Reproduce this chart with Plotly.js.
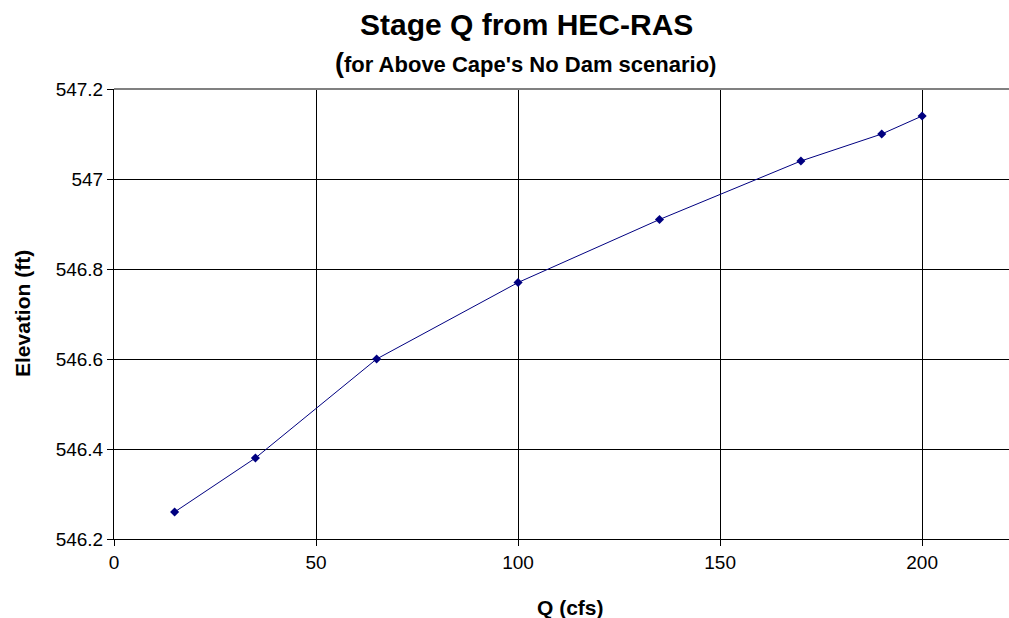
<!DOCTYPE html>
<html><head><meta charset="utf-8">
<script src="https://cdn.plot.ly/plotly-3.0.1.min.js"></script>
<style>html,body{margin:0;padding:0;background:#fff}#chart{width:1009px;height:618px}</style>
</head><body><div id="chart"></div>
<script>
const flowQ = [15, 35, 65, 100, 135, 170, 190, 200];
const elevation = [546.26, 546.38, 546.60, 546.77, 546.91, 547.04, 547.10, 547.14];
const xTicks = [0, 50, 100, 150, 200];
const yTicks = [546.2, 546.4, 546.6, 546.8, 547, 547.2];
const yTickText = ['546.2', '546.4', '546.6', '546.8', '547', '547.2'];
const titleText = 'Stage Q from HEC-RAS';
const subtitleText = "for Above Cape's No Dam scenario)";
const xTitle = 'Q (cfs)';
const yTitle = 'Elevation (ft)';

const FONT = 'Arial, "Liberation Sans", sans-serif';
const trace = {
  x: flowQ, y: elevation, type: 'scatter', mode: 'lines+markers',
  line: {color: '#000080', width: 1},
  marker: {symbol: 'diamond', size: 7, color: '#000080'},
  hoverinfo: 'x+y'
};
const layout = {
  width: 1009, height: 618,
  margin: {l: 114, r: 0, t: 89, b: 79},
  paper_bgcolor: '#fff', plot_bgcolor: '#fff',
  font: {family: FONT, color: '#000'},
  showlegend: false,
  xaxis: {
    range: [0, 221.5], tickvals: xTicks, ticktext: xTicks.map(String),
    showgrid: true, gridcolor: '#000', gridwidth: 1,
    showline: true, linecolor: '#000', linewidth: 1,
    ticks: 'outside', ticklen: 6, tickcolor: '#000',
    tickfont: {size: 19}, zeroline: false
  },
  yaxis: {
    range: [546.2, 547.2], tickvals: yTicks, ticktext: yTickText,
    showgrid: true, gridcolor: '#000', gridwidth: 1,
    showline: true, linecolor: '#000', linewidth: 1,
    ticks: 'outside', ticklen: 6, tickcolor: '#000',
    tickfont: {size: 19}, zeroline: false
  },
  annotations: [
    {text: '<b>' + titleText + '</b>', xref: 'paper', yref: 'paper', x: (526.5 - 114) / 895, y: (539 - 25) / 450,
     xanchor: 'center', yanchor: 'middle', showarrow: false, font: {size: 30, family: FONT}},
    {text: "<b><span style='font-size:27px'>(</span>" + subtitleText + '</b>', xref: 'paper', yref: 'paper',
     x: (525.5 - 114) / 895, y: (539 - 63) / 450, xanchor: 'center', yanchor: 'middle', showarrow: false,
     font: {size: 22, family: FONT}},
    {text: '<b>' + xTitle + '</b>', xref: 'paper', yref: 'paper', x: (570 - 114) / 895, y: (539 - 607) / 450,
     xanchor: 'center', yanchor: 'middle', showarrow: false, font: {size: 21, family: FONT}},
    {text: '<b>' + yTitle + '</b>', xref: 'paper', yref: 'paper', x: (22 - 114) / 895, y: 0.5,
     xanchor: 'center', yanchor: 'middle', textangle: -90, showarrow: false, font: {size: 21, family: FONT}}
  ],
  shapes: [{type: 'line', xref: 'paper', yref: 'paper', x0: 0, x1: 1, y0: 1, y1: 1, line: {color: '#808080', width: 2}}]
};
Plotly.newPlot('chart', [trace], layout, {staticPlot: true, displayModeBar: false});
</script></body></html>
